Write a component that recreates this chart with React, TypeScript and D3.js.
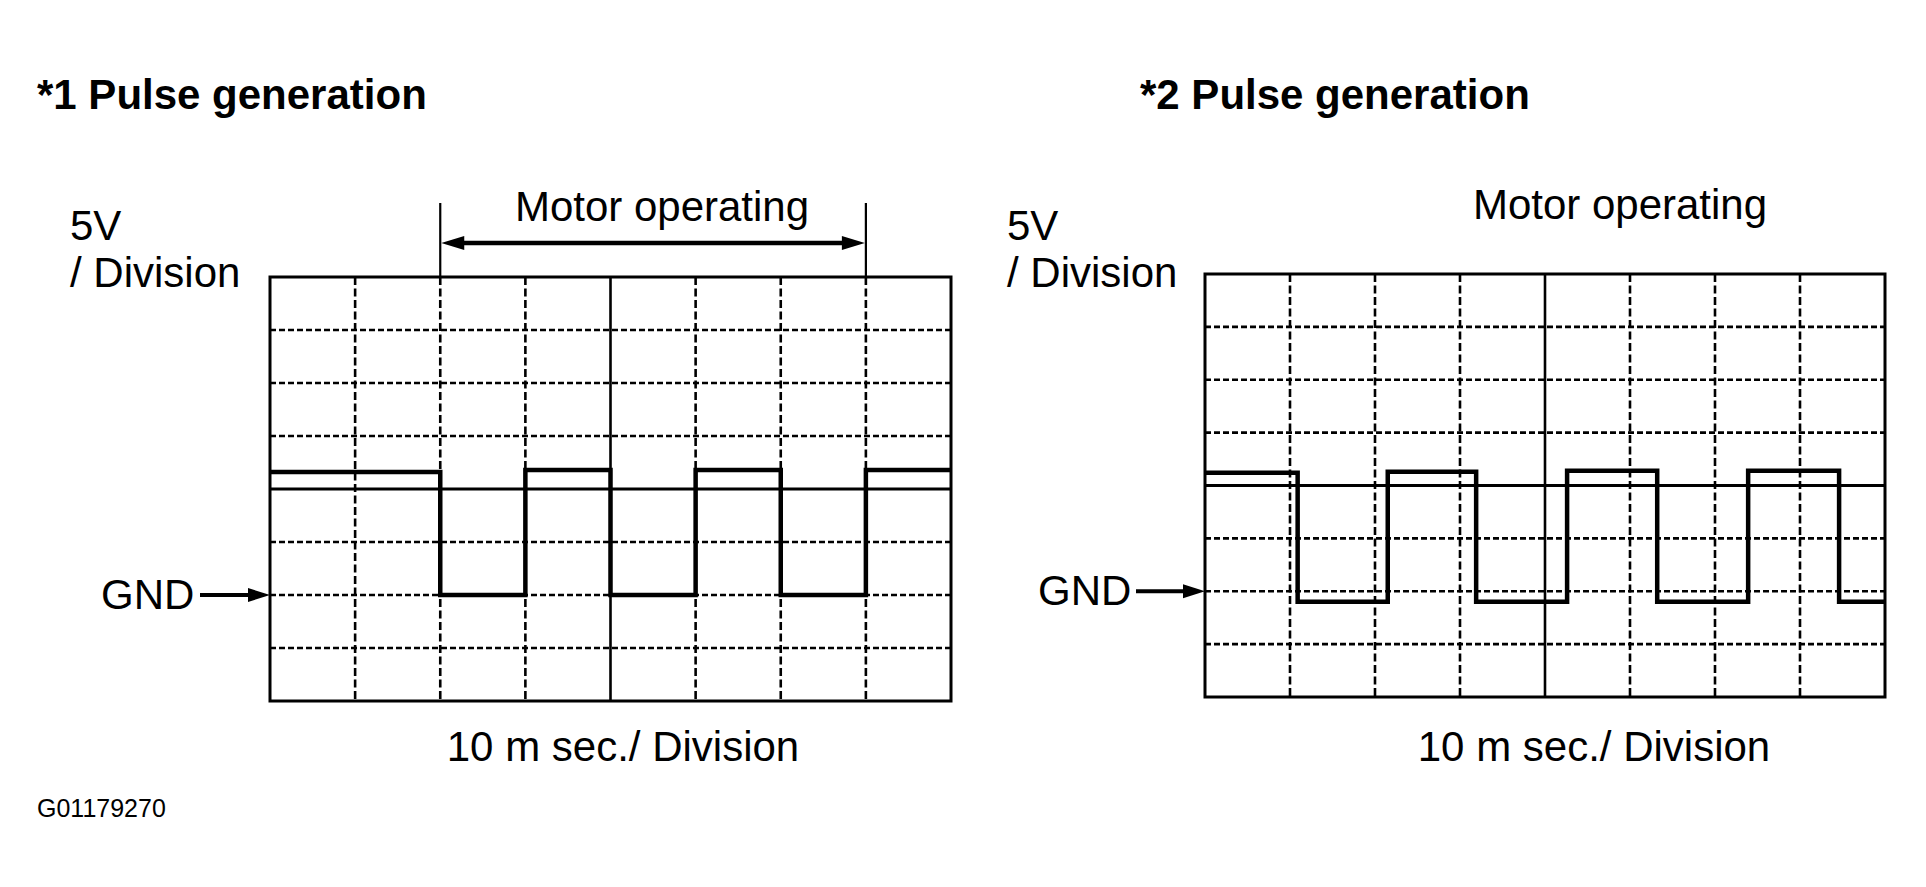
import React from "react";
import * as d3 from "d3";

// ---- data ----
const timeGrid = [0, 10, 20, 30, 40, 50, 60, 70, 80]; // ms (10 ms / division)
const voltGrid = [-10, -5, 0, 5, 10, 15, 20, 25, 30]; // V (5 V / division)
const centerTime = 40;
const centerVolt = 10;

const pulse1Edges = [0, 20, 30, 40, 50, 60, 70, 80];
const pulse1Levels = [11.6, 0, 11.8, 0, 11.8, 0, 11.8];
const motor1Span = [20, 70];

const pulse2Edges = [0, 10.9, 21.5, 31.9, 42.6, 53.2, 63.9, 74.6, 80];
const pulse2Levels = [11.2, -1.0, 11.3, -1.0, 11.4, -1.0, 11.4, -1.0];

const titles = ["*1 Pulse generation", "*2 Pulse generation"];
const FONT = "'Liberation Sans', Arial, Helvetica, sans-serif";

type PanelProps = {
  left: number;
  top: number;
  width: number;
  height: number;
  edges: number[];
  levels: number[];
  title: string;
  titleX: number;
  labelX: number;
  gndLabelX: number;
  arrowStartX: number;
  motorSpan?: number[];
  motorTextX: number;
  motorTextY: number;
  xLabelX: number;
};

function Panel(p: PanelProps) {
  const x = d3.scaleLinear().domain([0, 80]).range([p.left, p.left + p.width]);
  const y = d3.scaleLinear().domain([-10, 30]).range([p.top + p.height, p.top]);
  const pts: [number, number][] = [];
  p.levels.forEach((v, i) => {
    pts.push([p.edges[i], v]);
  });
  pts.push([p.edges[p.edges.length - 1], p.levels[p.levels.length - 1]]);
  const line = d3
    .line<[number, number]>()
    .x((d) => x(d[0]))
    .y((d) => y(d[1]))
    .curve(d3.curveStepAfter);
  const gy = y(0);
  const innerT = timeGrid.slice(1, -1);
  const innerV = voltGrid.slice(1, -1);
  return (
    <g>
      <text x={p.titleX} y={109} fontFamily={FONT} fontWeight="bold" fontSize={42}>
        {p.title}
      </text>
      <text x={p.labelX} y={240} fontFamily={FONT} fontSize={42}>5V</text>
      <text x={p.labelX} y={287} fontFamily={FONT} fontSize={42}>/ Division</text>
      <text x={p.motorTextX} y={p.motorTextY} fontFamily={FONT} fontSize={42} textAnchor="middle">
        Motor operating
      </text>
      {/* grid */}
      {innerV.map((v) => (
        <line
          key={"h" + v}
          x1={p.left}
          x2={p.left + p.width}
          y1={y(v)}
          y2={y(v)}
          stroke="#000"
          strokeWidth={v === centerVolt ? 3.2 : 2.6}
          strokeDasharray={v === centerVolt ? undefined : "6,3"}
        />
      ))}
      {innerT.map((t) => (
        <line
          key={"v" + t}
          x1={x(t)}
          x2={x(t)}
          y1={p.top}
          y2={p.top + p.height}
          stroke="#000"
          strokeWidth={t === centerTime ? 2.6 : 2.6}
          strokeDasharray={t === centerTime ? undefined : "8,3.5"}
        />
      ))}
      <rect
        x={p.left}
        y={p.top}
        width={p.width}
        height={p.height}
        fill="none"
        stroke="#000"
        strokeWidth={3}
      />
      {/* waveform */}
      <path d={line(pts) || ""} fill="none" stroke="#000" strokeWidth={4.5} strokeLinejoin="miter" />
      {/* GND */}
      <text x={p.gndLabelX} y={gy + 14} fontFamily={FONT} fontSize={42}>GND</text>
      <line x1={p.arrowStartX} x2={p.left - 14} y1={gy} y2={gy} stroke="#000" strokeWidth={4} />
      <path
        d={`M${p.left},${gy} L${p.left - 22},${gy - 7} L${p.left - 22},${gy + 7} Z`}
        fill="#000"
      />
      {/* motor span */}
      {p.motorSpan && (
        <g>
          {p.motorSpan.map((t) => (
            <line key={"m" + t} x1={x(t)} x2={x(t)} y1={203} y2={p.top} stroke="#000" strokeWidth={2.2} />
          ))}
          <line
            x1={x(p.motorSpan[0]) + 12}
            x2={x(p.motorSpan[1]) - 12}
            y1={243}
            y2={243}
            stroke="#000"
            strokeWidth={4.5}
          />
          <path
            d={`M${x(p.motorSpan[0]) + 1},243 L${x(p.motorSpan[0]) + 24},236 L${x(p.motorSpan[0]) + 24},250 Z`}
            fill="#000"
          />
          <path
            d={`M${x(p.motorSpan[1]) - 1},243 L${x(p.motorSpan[1]) - 24},236 L${x(p.motorSpan[1]) - 24},250 Z`}
            fill="#000"
          />
        </g>
      )}
      <text x={p.xLabelX} y={761} fontFamily={FONT} fontSize={42} textAnchor="middle">
        10 m sec./ Division
      </text>
    </g>
  );
}

export default function App() {
  return (
    <svg
      width={1926}
      height={887}
      style={{ position: "absolute", left: 0, top: 0, background: "#fff" }}
    >
      <rect x={0} y={0} width={1926} height={887} fill="#fff" />
      <Panel
        left={270}
        top={277}
        width={681}
        height={424}
        edges={pulse1Edges}
        levels={pulse1Levels}
        title={titles[0]}
        titleX={37}
        labelX={70}
        gndLabelX={101}
        arrowStartX={200}
        motorSpan={motor1Span}
        motorTextX={662}
        motorTextY={221}
        xLabelX={623}
      />
      <Panel
        left={1205}
        top={274}
        width={680}
        height={423}
        edges={pulse2Edges}
        levels={pulse2Levels}
        title={titles[1]}
        titleX={1140}
        labelX={1007}
        gndLabelX={1038}
        arrowStartX={1136}
        motorTextX={1620}
        motorTextY={219}
        xLabelX={1594}
      />
      <text x={37} y={817} fontFamily={FONT} fontSize={25}>G01179270</text>
    </svg>
  );
}
